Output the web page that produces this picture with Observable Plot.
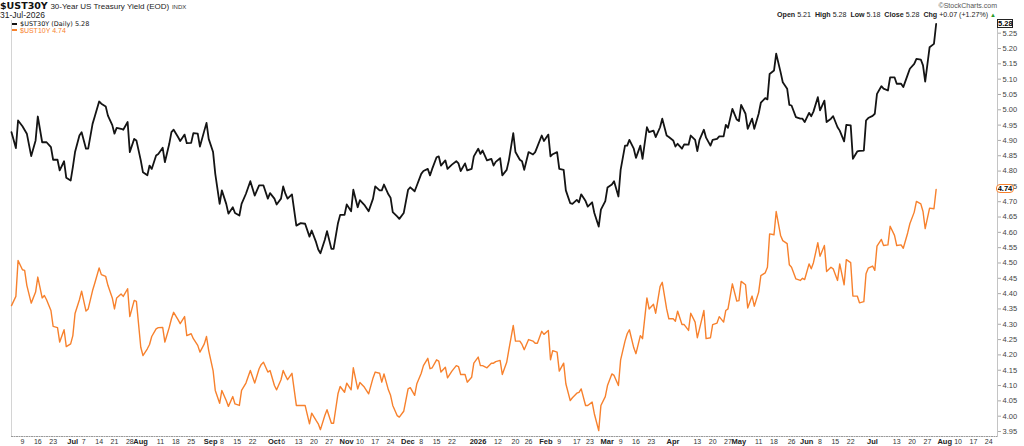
<!DOCTYPE html>
<html><head><meta charset="utf-8">
<script src="https://cdn.jsdelivr.net/npm/d3@7"></script>
<script src="https://cdn.jsdelivr.net/npm/@observablehq/plot@0.6"></script>
<style>
body{margin:0;background:#fff;}
#wrap{position:relative;width:1024px;height:446px;overflow:hidden;font-family:"Liberation Sans",Arial,sans-serif;color:#222;font-size:8px;}
.abs{position:absolute;white-space:nowrap;}
</style></head><body><div id="wrap"></div>
<script>
const dates = [
"2025-06-04","2025-06-06","2025-06-07","2025-06-09","2025-06-10","2025-06-11","2025-06-13","2025-06-15","2025-06-16","2025-06-18",
"2025-06-19","2025-06-20","2025-06-22","2025-06-23","2025-06-25","2025-06-26","2025-06-28","2025-06-29","2025-07-01","2025-07-02",
"2025-07-03","2025-07-05","2025-07-06","2025-07-08","2025-07-09","2025-07-11","2025-07-12","2025-07-14","2025-07-15","2025-07-17",
"2025-07-18","2025-07-20","2025-07-21","2025-07-22","2025-07-24","2025-07-25","2025-07-27","2025-07-28","2025-07-30","2025-07-31",
"2025-08-02","2025-08-03","2025-08-05","2025-08-06","2025-08-07","2025-08-09","2025-08-10","2025-08-12","2025-08-13","2025-08-15",
"2025-08-16","2025-08-17","2025-08-19","2025-08-20","2025-08-22","2025-08-23","2025-08-25","2025-08-26","2025-08-28","2025-08-29",
"2025-08-31","2025-09-01","2025-09-02","2025-09-04","2025-09-05","2025-09-07","2025-09-08","2025-09-10","2025-09-11","2025-09-13",
"2025-09-14","2025-09-16","2025-09-17","2025-09-19",
"2025-09-21","2025-09-23","2025-09-25","2025-09-26","2025-09-27","2025-09-29","2025-09-30","2025-10-02","2025-10-03","2025-10-05",
"2025-10-06","2025-10-07","2025-10-08","2025-10-10","2025-10-12","2025-10-14","2025-10-16","2025-10-18","2025-10-19","2025-10-21",
"2025-10-22","2025-10-23","2025-10-25","2025-10-26","2025-10-28","2025-10-29","2025-10-31","2025-11-01","2025-11-03","2025-11-04",
"2025-11-06","2025-11-07","2025-11-09","2025-11-10","2025-11-12","2025-11-14","2025-11-16","2025-11-17","2025-11-19","2025-11-20",
"2025-11-21","2025-11-23","2025-11-24","2025-11-25","2025-11-27","2025-11-28","2025-11-30","2025-12-02","2025-12-03","2025-12-05",
"2025-12-06","2025-12-08","2025-12-09","2025-12-11","2025-12-12","2025-12-13","2025-12-15","2025-12-16","2025-12-17","2025-12-19",
"2025-12-20","2025-12-22","2025-12-24","2025-12-25","2025-12-26","2025-12-28","2025-12-29","2025-12-31","2026-01-01","2026-01-03",
"2026-01-04","2026-01-05","2026-01-07","2026-01-09",
"2026-01-10","2026-01-11","2026-01-13","2026-01-14","2026-01-16","2026-01-17","2026-01-19","2026-01-20","2026-01-22","2026-01-23",
"2026-01-24","2026-01-26","2026-01-28","2026-01-29","2026-01-30","2026-02-01","2026-02-02","2026-02-04","2026-02-05","2026-02-06",
"2026-02-08","2026-02-09","2026-02-11","2026-02-12","2026-02-14","2026-02-15","2026-02-17","2026-02-18","2026-02-19","2026-02-21",
"2026-02-22","2026-02-24","2026-02-25","2026-02-27","2026-02-28","2026-03-02","2026-03-03","2026-03-05","2026-03-06","2026-03-08",
"2026-03-09","2026-03-11","2026-03-12","2026-03-13","2026-03-15","2026-03-16","2026-03-18","2026-03-19","2026-03-21","2026-03-22",
"2026-03-24","2026-03-25","2026-03-27","2026-03-28","2026-03-30","2026-03-31","2026-04-02","2026-04-03","2026-04-04","2026-04-06",
"2026-04-07","2026-04-09","2026-04-10","2026-04-12","2026-04-13","2026-04-14","2026-04-16","2026-04-17","2026-04-19","2026-04-20",
"2026-04-22","2026-04-23","2026-04-25","2026-04-26","2026-04-27","2026-04-29",
"2026-05-01","2026-05-02","2026-05-03","2026-05-05","2026-05-06","2026-05-08","2026-05-09","2026-05-11","2026-05-12","2026-05-14",
"2026-05-15","2026-05-16","2026-05-18","2026-05-19","2026-05-21","2026-05-22","2026-05-24","2026-05-25","2026-05-26","2026-05-28",
"2026-05-30","2026-05-31","2026-06-01","2026-06-03","2026-06-04","2026-06-05","2026-06-07","2026-06-08","2026-06-10","2026-06-11",
"2026-06-13","2026-06-14","2026-06-16","2026-06-17","2026-06-19","2026-06-20","2026-06-22","2026-06-23","2026-06-25","2026-06-26",
"2026-06-28","2026-06-29","2026-06-30","2026-07-02","2026-07-03","2026-07-04","2026-07-06","2026-07-07","2026-07-09","2026-07-10",
"2026-07-12","2026-07-13","2026-07-15","2026-07-16","2026-07-18","2026-07-19","2026-07-21","2026-07-22","2026-07-24","2026-07-25",
"2026-07-26","2026-07-28","2026-07-30","2026-07-31"
];
const ust30 = [
4.927,4.875,4.965,4.946,4.934,4.922,4.849,4.900,4.978,4.894,
4.894,4.894,4.878,4.837,4.837,4.802,4.832,4.778,4.769,4.813,
4.862,4.916,4.927,4.873,4.873,4.954,4.978,5.027,5.020,5.011,
4.981,4.950,4.922,4.941,4.938,4.935,4.960,4.862,4.905,4.900,
4.835,4.796,4.786,4.818,4.807,4.851,4.856,4.876,4.829,4.889,
4.927,4.935,4.911,4.898,4.919,4.891,4.892,4.924,4.922,4.880,
4.932,4.957,4.905,4.862,4.791,4.693,4.737,4.693,4.661,4.682,
4.663,4.655,4.693,4.726,
4.767,4.720,4.753,4.753,4.753,4.710,4.728,4.710,4.691,4.710,
4.750,4.726,4.710,4.724,4.622,4.630,4.628,4.586,4.606,4.568,
4.544,4.532,4.576,4.604,4.546,4.546,4.630,4.657,4.657,4.691,
4.669,4.739,4.682,4.705,4.690,4.669,4.710,4.750,4.737,4.737,
4.756,4.724,4.713,4.666,4.652,4.644,4.663,4.739,4.747,4.734,
4.753,4.791,4.800,4.807,4.786,4.807,4.845,4.848,4.818,4.835,
4.807,4.821,4.832,4.825,4.800,4.825,4.802,4.807,4.848,4.873,
4.856,4.867,4.835,4.840,
4.818,4.830,4.842,4.786,4.804,4.835,4.924,4.862,4.837,4.832,
4.804,4.862,4.854,4.862,4.880,4.916,4.898,4.919,4.848,4.855,
4.862,4.807,4.804,4.737,4.695,4.693,4.706,4.698,4.724,4.702,
4.684,4.698,4.663,4.619,4.674,4.702,4.746,4.756,4.767,4.717,
4.804,4.883,4.883,4.902,4.873,4.843,4.883,4.840,4.943,4.927,
4.932,4.911,4.943,4.971,4.916,4.911,4.900,4.880,4.889,4.873,
4.887,4.886,4.916,4.902,4.865,4.902,4.935,4.909,4.883,4.902,
4.905,4.913,4.913,4.951,4.941,5.003,
4.968,4.963,5.016,4.987,4.938,4.971,4.938,4.987,5.023,5.038,
5.034,5.117,5.128,5.183,5.123,5.090,5.069,5.016,5.014,4.976,
4.971,4.971,4.960,4.990,4.979,4.994,5.041,4.998,5.030,4.960,
4.971,4.979,4.943,4.932,4.897,4.951,4.949,4.840,4.864,4.866,
4.867,4.965,4.973,4.980,4.987,5.052,5.077,5.069,5.063,5.106,
5.106,5.085,5.085,5.074,5.114,5.134,5.150,5.166,5.164,5.145,
5.092,5.204,5.215,5.280
];
const ust10 = [
4.361,4.391,4.508,4.478,4.476,4.427,4.369,4.405,4.454,4.386,
4.394,4.380,4.345,4.293,4.289,4.242,4.282,4.227,4.236,4.263,
4.335,4.380,4.408,4.343,4.350,4.410,4.434,4.484,4.462,4.456,
4.427,4.386,4.350,4.386,4.399,4.391,4.416,4.325,4.378,4.375,
4.225,4.198,4.220,4.234,4.260,4.285,4.289,4.290,4.242,4.290,
4.318,4.339,4.315,4.302,4.325,4.263,4.269,4.253,4.231,4.209,
4.236,4.260,4.214,4.149,4.084,4.042,4.084,4.051,4.032,4.064,
4.040,4.035,4.084,4.108,
4.149,4.108,4.155,4.169,4.176,4.144,4.149,4.100,4.086,4.119,
4.149,4.133,4.119,4.140,4.035,4.035,4.035,3.975,4.010,3.986,
3.975,3.956,4.002,4.021,3.977,3.977,4.073,4.097,4.078,4.108,
4.086,4.158,4.089,4.110,4.095,4.073,4.125,4.144,4.140,4.111,
4.138,4.086,4.068,4.035,4.002,3.997,4.016,4.089,4.093,4.068,
4.106,4.140,4.165,4.189,4.155,4.158,4.184,4.180,4.144,4.160,
4.125,4.147,4.165,4.162,4.136,4.136,4.111,4.127,4.173,4.193,
4.165,4.165,4.158,4.173,
4.173,4.178,4.182,4.136,4.176,4.217,4.296,4.245,4.245,4.234,
4.217,4.250,4.245,4.238,4.238,4.277,4.267,4.280,4.184,4.214,
4.209,4.147,4.173,4.106,4.051,4.060,4.075,4.078,4.089,4.035,
4.035,4.046,4.008,3.953,4.035,4.064,4.100,4.138,4.133,4.100,
4.184,4.245,4.269,4.282,4.223,4.204,4.263,4.253,4.386,4.350,
4.365,4.336,4.423,4.437,4.350,4.318,4.318,4.310,4.343,4.299,
4.299,4.280,4.336,4.307,4.256,4.285,4.345,4.253,4.256,4.299,
4.304,4.325,4.307,4.345,4.350,4.432,
4.376,4.377,4.440,4.429,4.353,4.392,4.359,4.405,4.459,4.468,
4.486,4.595,4.592,4.668,4.590,4.573,4.563,4.494,4.486,4.448,
4.443,4.450,4.446,4.497,4.481,4.501,4.566,4.522,4.557,4.472,
4.486,4.481,4.443,4.497,4.429,4.511,4.501,4.392,4.392,4.370,
4.374,4.465,4.483,4.490,4.476,4.555,4.577,4.557,4.559,4.620,
4.590,4.557,4.559,4.548,4.598,4.628,4.666,4.701,4.693,4.668,
4.612,4.679,4.677,4.740
];
const weekTickDates = ["2025-06-09","2025-06-16","2025-06-23","2025-07-07","2025-07-14","2025-07-21","2025-07-28","2025-08-11","2025-08-18","2025-08-25",
"2025-09-08","2025-09-15","2025-09-22","2025-10-06","2025-10-13","2025-10-20","2025-10-27","2025-11-10","2025-11-17","2025-11-24",
"2025-12-08","2025-12-15","2025-12-22","2026-01-12","2026-01-20","2026-01-26","2026-02-09","2026-02-17","2026-02-23","2026-03-09",
"2026-03-16","2026-03-23","2026-04-13","2026-04-20","2026-04-27","2026-05-11","2026-05-18","2026-05-26","2026-06-08","2026-06-15",
"2026-06-22","2026-07-13","2026-07-20","2026-07-27","2026-08-10","2026-08-17","2026-08-24"];
const weekTickLabels = ["9","16","23","7","14","21","28","11","18","25",
"8","15","22","6","13","20","27","10","17","24",
"8","15","22","12","20","26","9","17","23","9",
"16","23","13","20","27","11","18","26","8","15",
"22","13","20","27","10","17","24"];
const monthTickDates = ["2025-07-01","2025-08-01","2025-09-02","2025-10-01","2025-11-03","2025-12-01","2026-01-02","2026-02-02","2026-03-02","2026-04-01","2026-05-01","2026-06-01","2026-07-01","2026-08-03"];
const monthTickLabels = ["Jul","Aug","Sep","Oct","Nov","Dec","2026","Feb","Mar","Apr","May","Jun","Jul","Aug"];
const yTicks = [3.95,4.00,4.05,4.10,4.15,4.20,4.25,4.30,4.35,4.40,4.45,4.50,4.55,4.60,4.65,4.70,4.75,4.80,4.85,4.90,4.95,5.00,5.05,5.10,5.15,5.20,5.25];
const xDomain = ["2025-06-04","2026-08-28"];
const yDomain = [3.9337, 5.2914];
const last30 = 5.28, last10 = 4.74;

const parse = d3.utcParse("%Y-%m-%d");
const rows = dates.map((d, i) => ({date: parse(d), v30: ust30[i], v10: ust10[i]}));
const weeks = weekTickDates.map((d, i) => ({date: parse(d), label: weekTickLabels[i]}));
const months = monthTickDates.map((d, i) => ({date: parse(d), label: monthTickLabels[i]}));
const ORANGE = "#f7812d";

const chart = Plot.plot({
  width: 1024, height: 446,
  marginLeft: 11, marginRight: 27, marginTop: 20, marginBottom: 10,
  style: {fontFamily: "'Liberation Sans', Arial, sans-serif", fontSize: "7.5px", background: "#fff", overflow: "visible"},
  x: {type: "utc", domain: xDomain.map(parse), axis: null},
  y: {domain: yDomain, axis: null},
  marks: [
    Plot.frame({anchor: "left", stroke: "#d4d4d4"}),
    Plot.frame({anchor: "bottom", stroke: "#9a9a9a", strokeDasharray: "1,1.5"}),
    Plot.frame({anchor: "right", stroke: "#c4c4c4"}),
    Plot.axisY(yTicks, {anchor: "right", tickSize: 3, tickPadding: 2, tickFormat: d => d.toFixed(2), color: "#444", stroke: "#aaa", label: null, fontSize: 7.5}),
    Plot.line(rows, {x: "date", y: "v10", stroke: ORANGE, strokeWidth: 1.4}),
    Plot.line(rows, {x: "date", y: "v30", stroke: "#141414", strokeWidth: 1.8}),
    Plot.text(weeks, {x: "date", text: "label", frameAnchor: "bottom", dy: 5, lineAnchor: "middle", fontSize: 7, fill: "#333"}),
    Plot.text(months, {x: "date", text: "label", frameAnchor: "bottom", dx: 2, dy: 5, lineAnchor: "middle", fontSize: 7.5, fontWeight: "bold", fill: "#222"})
  ]
});
const wrap = document.getElementById("wrap");
wrap.appendChild(chart);

function add(html, style) {
  const d = document.createElement("div");
  d.className = "abs";
  d.setAttribute("style", style);
  d.innerHTML = html;
  wrap.appendChild(d);
  return d;
}
// header
add('<span style="font:bold 9.5px \'DejaVu Sans\',sans-serif;color:#111">$UST30Y</span> <span style="font-size:8px;color:#222">30-Year US Treasury Yield (EOD)</span> <span style="font-size:6px;color:#333">INDX</span>', "left:0;top:0;font-size:9.5px;line-height:10px;");
add('31-Jul-2026', "left:0;top:10.5px;font-size:8.5px;line-height:8.5px;color:#222;");
add('&copy;StockCharts.com', "right:27px;top:2px;font-size:7px;line-height:7px;color:#555;");
add('<b>Open</b> 5.21 &nbsp;<b>High</b> 5.28 &nbsp;<b>Low</b> 5.18 &nbsp;<b>Close</b> 5.28 &nbsp;<b>Chg</b> +0.07 (+1.27%) <span style="color:#2a9a2a;font-size:6px">&#9650;</span>', "right:28px;top:11px;font-size:7.1px;line-height:8px;color:#222;");
// legend
add('<span style="display:inline-block;width:5px;height:2px;background:#141414;margin-right:3px"></span><span style="font:6.5px \'DejaVu Sans\',sans-serif;color:#111">$UST30Y (Daily) 5.28</span>', "left:12px;top:20.5px;height:7px;font-size:6.5px;line-height:7px;display:flex;align-items:center;");
add('<span style="display:inline-block;width:5px;height:2px;background:' + ORANGE + ';margin-right:3px"></span><span style="font-size:7px;color:' + ORANGE + '">$UST10Y 4.74</span>', "left:12px;top:26.8px;height:7px;font-size:7px;line-height:7px;display:flex;align-items:center;");
// last-value tags on the right axis
const ys = chart.scale("y");
add(last30.toFixed(2), `left:997px;top:${ys.apply(last30) - 4.5}px;width:16px;height:9px;box-sizing:border-box;border:1px solid #222;background:#fff;font-weight:bold;font-size:7.5px;line-height:7px;text-align:center;color:#000;`);
add(last10.toFixed(2), `left:996px;top:${ys.apply(last10) - 4.5}px;width:18px;height:9px;box-sizing:border-box;border:1px solid ${ORANGE};border-radius:4px;background:#fff;font-weight:bold;font-size:7.5px;line-height:7px;text-align:center;color:#000;`);
</script></body></html>
